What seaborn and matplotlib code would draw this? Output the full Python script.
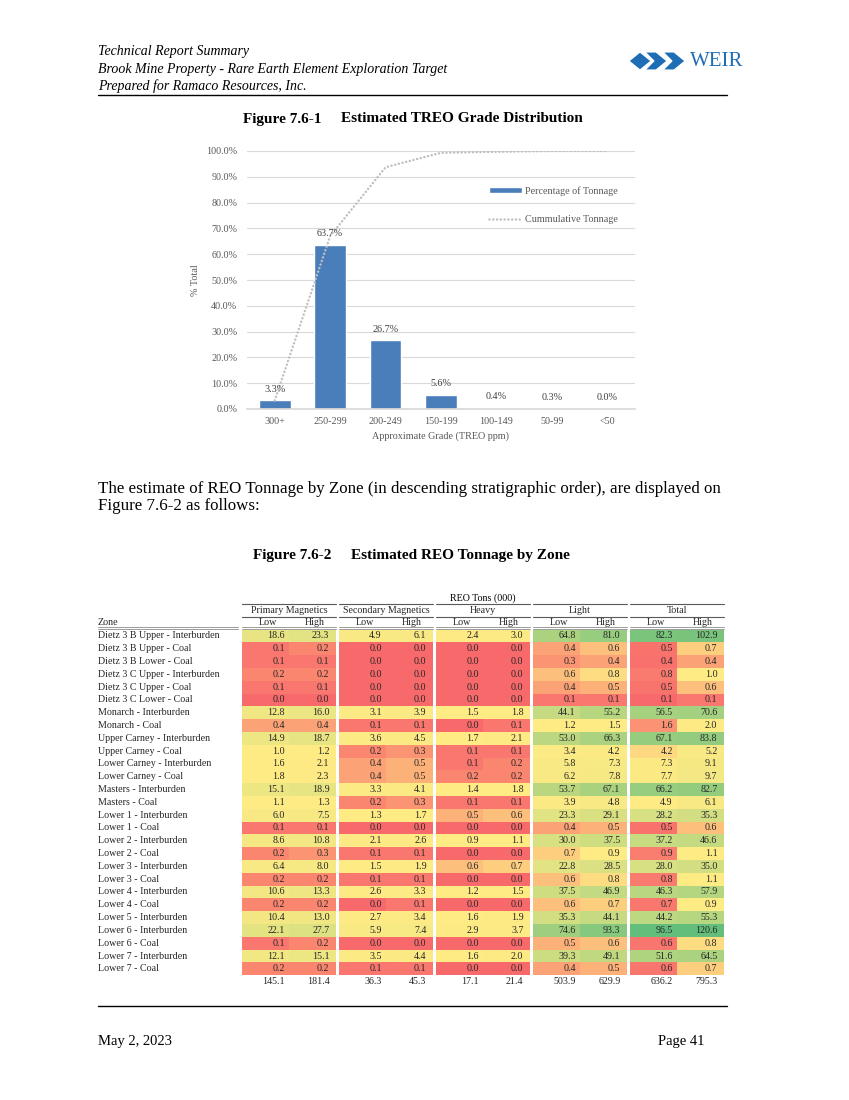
import numpy as np
import pandas as pd
import matplotlib
matplotlib.use('Agg')
import matplotlib.pyplot as plt
import matplotlib.transforms as mtrans
import seaborn as sb
from matplotlib.colors import LinearSegmentedColormap, TwoSlopeNorm
from matplotlib.lines import Line2D
from matplotlib.patches import Patch, Polygon
from matplotlib.ticker import MultipleLocator, FuncFormatter

# chart data (Figure 7.6-1)
grades = ["300+", "250-299", "200-249", "150-199", "100-149", "50-99", "<50"]
pct_tonnage = [3.3, 63.7, 26.7, 5.6, 0.4, 0.3, 0.0]
cum_tonnage = [3.3, 67.0, 93.7, 99.3, 99.7, 100.0, 100.0]

# table data (Figure 7.6-2), REO tons (000)
zones = [
    "Dietz 3 B Upper - Interburden", "Dietz 3 B Upper - Coal", "Dietz 3 B Lower - Coal",
    "Dietz 3 C Upper - Interburden", "Dietz 3 C Upper - Coal", "Dietz 3 C Lower - Coal",
    "Monarch - Interburden", "Monarch - Coal", "Upper Carney - Interburden",
    "Upper Carney - Coal", "Lower Carney - Interburden", "Lower Carney - Coal",
    "Masters - Interburden", "Masters - Coal", "Lower 1 - Interburden", "Lower 1 - Coal",
    "Lower 2 - Interburden", "Lower 2 - Coal", "Lower 3 - Interburden", "Lower 3 - Coal",
    "Lower 4 - Interburden", "Lower 4 - Coal", "Lower 5 - Interburden",
    "Lower 6 - Interburden", "Lower 6 - Coal", "Lower 7 - Interburden", "Lower 7 - Coal",
]
prim_low = [18.6, 0.1, 0.1, 0.2, 0.1, 0.0, 12.8, 0.4, 14.9, 1.0, 1.6, 1.8, 15.1, 1.1,
            6.0, 0.1, 8.6, 0.2, 6.4, 0.2, 10.6, 0.2, 10.4, 22.1, 0.1, 12.1, 0.2]
prim_high = [23.3, 0.2, 0.1, 0.2, 0.1, 0.0, 16.0, 0.4, 18.7, 1.2, 2.1, 2.3, 18.9, 1.3,
             7.5, 0.1, 10.8, 0.3, 8.0, 0.2, 13.3, 0.2, 13.0, 27.7, 0.2, 15.1, 0.2]
sec_low = [4.9, 0.0, 0.0, 0.0, 0.0, 0.0, 3.1, 0.1, 3.6, 0.2, 0.4, 0.4, 3.3, 0.2,
           1.3, 0.0, 2.1, 0.1, 1.5, 0.1, 2.6, 0.0, 2.7, 5.9, 0.0, 3.5, 0.1]
sec_high = [6.1, 0.0, 0.0, 0.0, 0.0, 0.0, 3.9, 0.1, 4.5, 0.3, 0.5, 0.5, 4.1, 0.3,
            1.7, 0.0, 2.6, 0.1, 1.9, 0.1, 3.3, 0.1, 3.4, 7.4, 0.0, 4.4, 0.1]
heavy_low = [2.4, 0.0, 0.0, 0.0, 0.0, 0.0, 1.5, 0.0, 1.7, 0.1, 0.1, 0.2, 1.4, 0.1,
             0.5, 0.0, 0.9, 0.0, 0.6, 0.0, 1.2, 0.0, 1.6, 2.9, 0.0, 1.6, 0.0]
heavy_high = [3.0, 0.0, 0.0, 0.0, 0.0, 0.0, 1.8, 0.1, 2.1, 0.1, 0.2, 0.2, 1.8, 0.1,
              0.6, 0.0, 1.1, 0.0, 0.7, 0.0, 1.5, 0.0, 1.9, 3.7, 0.0, 2.0, 0.0]
light_low = [64.8, 0.4, 0.3, 0.6, 0.4, 0.1, 44.1, 1.2, 53.0, 3.4, 5.8, 6.2, 53.7, 3.9,
             23.3, 0.4, 30.0, 0.7, 22.8, 0.6, 37.5, 0.6, 35.3, 74.6, 0.5, 39.3, 0.4]
light_high = [81.0, 0.6, 0.4, 0.8, 0.5, 0.1, 55.2, 1.5, 66.3, 4.2, 7.3, 7.8, 67.1, 4.8,
              29.1, 0.5, 37.5, 0.9, 28.5, 0.8, 46.9, 0.7, 44.1, 93.3, 0.6, 49.1, 0.5]
total_low = [82.3, 0.5, 0.4, 0.8, 0.5, 0.1, 56.5, 1.6, 67.1, 4.2, 7.3, 7.7, 66.2, 4.9,
             28.2, 0.5, 37.2, 0.9, 28.0, 0.8, 46.3, 0.7, 44.2, 96.5, 0.6, 51.6, 0.6]
total_high = [102.9, 0.7, 0.4, 1.0, 0.6, 0.1, 70.6, 2.0, 83.8, 5.2, 9.1, 9.7, 82.7, 6.1,
              35.3, 0.6, 46.6, 1.1, 35.0, 1.1, 57.9, 0.9, 55.3, 120.6, 0.8, 64.5, 0.7]
group_names = ["Primary Magnetics", "Secondary Magnetics", "Heavy", "Light", "Total"]
sum_low = [145.1, 36.3, 17.1, 503.9, 636.2]
sum_high = [181.4, 45.3, 21.4, 629.9, 795.3]

sb.set_theme(style="white")
plt.rcParams['font.family'] = ['Liberation Serif', 'DejaVu Serif']

W, H = 849, 1100
fig = plt.figure(figsize=(W / 100, H / 100), dpi=100)
fig.patch.set_facecolor('white')


def box(x0, y0, x1, y1):
    return fig.add_axes([x0 / W, 1 - y1 / H, (x1 - x0) / W, (y1 - y0) / H])


def ptext(x, y, s, **kw):
    kw.setdefault('va', 'center')
    kw.setdefault('color', 'black')
    fig.text(x / W, 1 - y / H, s, **kw)


def hline(x0, x1, y, **kw):
    fig.add_artist(Line2D([x0 / W, x1 / W], [1 - y / H, 1 - y / H], **kw))


# page header
ptext(98, 52, "Technical Report Summary", fontsize=10, style='italic')
ptext(98, 69, "Brook Mine Property - Rare Earth Element Exploration Target", fontsize=10, style='italic')
ptext(98, 86, "Prepared for Ramaco Resources, Inc.", fontsize=10, style='italic')
hline(98, 727, 95, color='black', lw=1.0)

# logo
logo_blue = '#1F6DB5'
logo_shapes = [
    [(629, 61), (640, 52), (651, 61), (640, 70)],
    [(645, 52), (656, 52), (667, 61), (656, 70), (645, 70), (654, 61)],
    [(663, 52), (674, 52), (685, 61), (674, 70), (663, 70), (672, 61)],
]
for pts in logo_shapes:
    fig.add_artist(Polygon([(x / W, 1 - y / H) for x, y in pts], closed=True,
                           facecolor=logo_blue, edgecolor='white', lw=0.8,
                           transform=fig.transFigure))
ptext(690, 62, "WEIR", fontsize=15, color=logo_blue)

# Figure 7.6-1 title
ptext(243, 119, "Figure 7.6-1", fontsize=11, weight='bold')
ptext(341, 119, "Estimated TREO Grade Distribution", fontsize=11, weight='bold')

# bar chart
grey_txt = '#595959'
dot_style = (0, (0.01, 1.5))
ax = box(247, 151, 635, 409)
df_grade = pd.DataFrame({"grade": grades, "pct": pct_tonnage})
sb.barplot(data=df_grade, x="grade", y="pct", color='#4A7EBB', saturation=1,
           width=0.57, ax=ax)
sb.lineplot(x=np.arange(len(grades)), y=cum_tonnage, ax=ax, color='#BFBFBF',
            linewidth=1.8, linestyle=dot_style, dash_capstyle='round')
for i, v in enumerate(pct_tonnage):
    ax.text(i, v + 4.3, f"{v:.1f}%", ha='center', va='center', fontsize=7.3, color='#404040')
ax.set_xlim(-0.5, len(grades) - 0.5)
ax.set_ylim(0, 100)
ax.yaxis.set_major_locator(MultipleLocator(10))
ax.yaxis.set_major_formatter(FuncFormatter(lambda v, p: f"{v:.1f}%"))
ax.grid(axis='y', color='#D9D9D9', lw=0.8)
ax.set_axisbelow(True)
for s in ['left', 'top', 'right']:
    ax.spines[s].set_visible(False)
ax.spines['bottom'].set_color('#D9D9D9')
ax.tick_params(axis='both', length=0, labelsize=7.3, labelcolor=grey_txt)
ax.tick_params(axis='y', pad=7)
ax.tick_params(axis='x', pad=6)
ax.set_xlabel("Approximate Grade (TREO ppm)", fontsize=7.3, color=grey_txt)
ax.set_ylabel("% Total", fontsize=7.3, color=grey_txt)
ax.xaxis.set_label_coords(0.5, -0.085)
ax.yaxis.set_label_coords(-0.12, 0.5)
handles = [Patch(facecolor='#4A7EBB', label="Percentage of Tonnage"),
           Line2D([], [], color='#BFBFBF', lw=1.8, linestyle=dot_style,
                  dash_capstyle='round', label="Cummulative Tonnage")]
leg = ax.legend(handles=handles, loc='upper left', bbox_to_anchor=(0.6, 0.9),
                frameon=False, fontsize=7.3, handlelength=3.3, handleheight=0.45,
                handletextpad=0.3, labelspacing=1.9)
for t in leg.get_texts():
    t.set_color(grey_txt)

# body text
ptext(98, 489, "The estimate of REO Tonnage by Zone (in descending stratigraphic order), are displayed on",
      fontsize=12.2)
ptext(98, 506, "Figure 7.6-2 as follows:", fontsize=12.2)

# Figure 7.6-2 title
ptext(253, 556, "Figure 7.6-2", fontsize=11, weight='bold')
ptext(351, 556, "Estimated REO Tonnage by Zone", fontsize=11, weight='bold')

# heat-map table
cmap = LinearSegmentedColormap.from_list("excel3", ["#F8696B", "#FFEB84", "#63BE7B"])
lows = [prim_low, sec_low, heavy_low, light_low, total_low]
highs = [prim_high, sec_high, heavy_high, light_high, total_high]
scale_a = np.array(prim_low + prim_high + sec_low + sec_high + heavy_low + heavy_high
                   + light_low + light_high + total_high)
norm_a = TwoSlopeNorm(vmin=scale_a.min(), vcenter=np.median(scale_a), vmax=scale_a.max())
norm_b = TwoSlopeNorm(vmin=min(total_low), vcenter=np.median(total_low), vmax=max(total_low))

n = len(zones)
row_h = 12.8
top = 629.6
bottom = top + n * row_h
gx0, gw, gstep = 242, 94, 97
fs = 7.2
line_c = '#595959'

mask_high = np.zeros((n, 2), dtype=bool)
mask_high[:, 1] = True
mask_low = ~mask_high

for g, name in enumerate(group_names):
    x0 = gx0 + g * gstep
    tax = box(x0, top, x0 + gw, bottom)
    df = pd.DataFrame({"Low": lows[g], "High": highs[g]}, index=zones)
    hm_kw = dict(cmap=cmap, cbar=False, xticklabels=False, yticklabels=False, ax=tax)
    if name == "Total":
        sb.heatmap(df, mask=mask_high, norm=norm_b, **hm_kw)
        sb.heatmap(df, mask=mask_low, norm=norm_a, **hm_kw)
    else:
        sb.heatmap(df, norm=norm_a, **hm_kw)
    tax.set_xlabel("")
    tax.set_ylabel("")
    for r in range(n):
        tax.text(0.91, r + 0.5, f"{lows[g][r]:.1f}", ha='right', va='center', fontsize=fs)
        tax.text(1.86, r + 0.5, f"{highs[g][r]:.1f}", ha='right', va='center', fontsize=fs)
    tax.text(0.91, n + 0.5, f"{sum_low[g]:.1f}", ha='right', va='center', fontsize=fs, clip_on=False)
    tax.text(1.86, n + 0.5, f"{sum_high[g]:.1f}", ha='right', va='center', fontsize=fs, clip_on=False)
    tax.text(0.55, -0.52, "Low", ha='center', va='center', fontsize=fs, clip_on=False)
    tax.text(1.55, -0.52, "High", ha='center', va='center', fontsize=fs, clip_on=False)
    tax.text(1.0, -1.5, name, ha='center', va='center', fontsize=fs, clip_on=False)
    tax.plot([0, 2], [-1.0, -1.0], color=line_c, lw=0.8, clip_on=False)
    tax.plot([0, 2], [-2.0, -2.0], color=line_c, lw=0.8, clip_on=False)
    tax.plot([0, 2], [-0.2, -0.2], color='#8C8C8C', lw=0.6, clip_on=False)
    tax.plot([0, 2], [-0.05, -0.05], color='#8C8C8C', lw=0.6, clip_on=False)
    if g == 0:
        trans = mtrans.blended_transform_factory(fig.transFigure, tax.transData)
        for r, z in enumerate(zones):
            tax.text(98 / W, r + 0.5, z, transform=trans, ha='left', va='center',
                     fontsize=fs, clip_on=False)
        tax.text(98 / W, -0.52, "Zone", transform=trans, ha='left', va='center',
                 fontsize=fs, clip_on=False)
        tax.plot([98 / W, 238 / W], [-0.2, -0.2], transform=trans, color='#8C8C8C',
                 lw=0.6, clip_on=False)
        tax.plot([98 / W, 238 / W], [-0.05, -0.05], transform=trans, color='#8C8C8C',
                 lw=0.6, clip_on=False)

ptext(483, top - 2.45 * row_h, "REO Tons (000)", fontsize=fs, ha='center')

# footer
hline(98, 727, 1006, color='black', lw=1.0)
ptext(98, 1042, "May 2, 2023", fontsize=10.5)
ptext(705, 1042, "Page 41", fontsize=10.5, ha='right')

fig.savefig("out.png", dpi=100, facecolor='white')
